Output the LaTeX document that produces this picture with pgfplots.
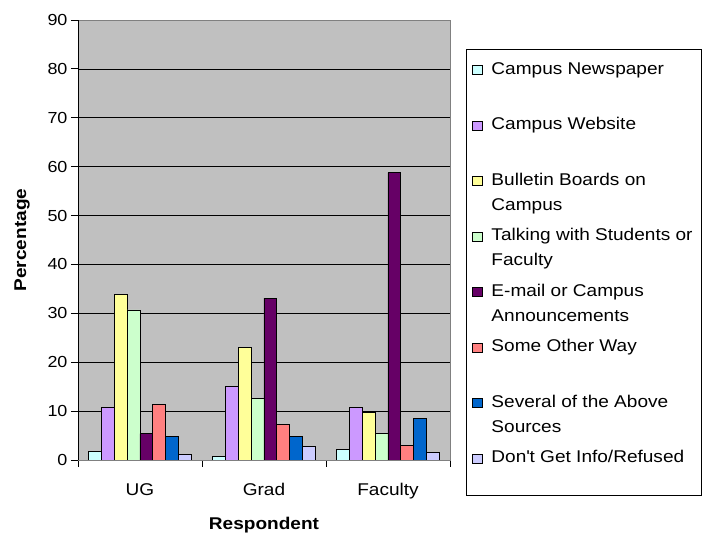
\documentclass[border=0pt]{standalone}
\usepackage{pgfplots}
\pgfplotsset{compat=1.18}
\usepackage{fontspec}
\setmainfont{Liberation Sans}[FakeStretch=1.12]
\definecolor{cNews}{HTML}{CCFFFF}
\definecolor{cWeb}{HTML}{CC99FF}
\definecolor{cBull}{HTML}{FFFF99}
\definecolor{cTalk}{HTML}{CCFFCC}
\definecolor{cMail}{HTML}{660066}
\definecolor{cOther}{HTML}{FF8080}
\definecolor{cSev}{HTML}{0066CC}
\definecolor{cNone}{HTML}{CCCCFF}
\definecolor{plotbg}{HTML}{C0C0C0}
\newcommand\LE[1]{\parbox[t]{204pt}{\raggedright #1}}
\pgfplotsset{
  midimg/.style={legend image code/.code={\draw[##1, draw=black, line width=0.6pt] (0pt,0pt) rectangle (9.5pt,9pt); \path[draw=none, fill=none] (0pt,-43.2pt) -- (0pt,0pt);}},
  lastimg/.style={legend image code/.code={\draw[##1, draw=black, line width=0.6pt] (0pt,0pt) rectangle (9.5pt,9pt); \path[draw=none, fill=none] (0pt,-19pt) -- (0pt,0pt);}},
}
\begin{document}
\begin{tikzpicture}
\begin{axis}[
  scale only axis,
  width=372pt, height=440pt,
  xmin=-0.5, xmax=2.5,
  ymin=0, ymax=90,
  ytick={0,10,...,90},
  xtick={-0.5,0.5,1.5,2.5},
  xticklabels={,,,},
  extra x ticks={0,1,2},
  extra x tick labels={UG,Grad,Faculty},
  extra x tick style={tick style={draw=none}},
  tick align=outside,
  tick pos=left,
  major tick length=7pt,
  tick style={black, line width=0.8pt},
  ymajorgrids,
  grid style={black, line width=0.7pt},
  axis line style={draw=gray, line width=0.8pt},
  axis background/.style={fill=plotbg},
  /pgf/number format/assume math mode=true,
  yticklabel style={font=\fontsize{16}{16}\selectfont, xshift=0pt},
  xticklabel style={font=\fontsize{17}{17}\selectfont, anchor=base, yshift=-29pt},
  every axis y label/.style={at={(axis description cs:-0.15,0.5)}, rotate=90, anchor=center},
  every axis x label/.style={at={(axis description cs:0.5,-0.147)}, anchor=center},
  ylabel={\fontsize{17}{17}\selectfont\bfseries Percentage},
  xlabel={\fontsize{17}{17}\selectfont\bfseries Respondent},
  ybar=0pt,
  bar width=0.104,
  midimg,
  legend style={at={(axis description cs:1.043,0.934)}, anchor=north west,
    draw=black, line width=0.8pt, fill=white,
    inner xsep=6pt, inner ysep=13pt, column sep=9pt, row sep=0pt,
    nodes={inner sep=0pt},
    cells={anchor=base west, inner sep=0pt},
    font=\fontsize{17}{25}\selectfont},
]
\addplot[fill=cNews, draw=black, line width=0.8pt, bar shift=-0.364] coordinates {(0,1.7) (1,0.8) (2,2.1)};
\addlegendentry{\LE{Campus Newspaper}}
\addplot[fill=cWeb, draw=black, line width=0.8pt, bar shift=-0.260] coordinates {(0,10.7) (1,15.1) (2,10.7)};
\addlegendentry{\LE{Campus Website}}
\addplot[fill=cBull, draw=black, line width=0.8pt, bar shift=-0.156] coordinates {(0,33.8) (1,23.0) (2,9.8)};
\addlegendentry{\LE{Bulletin Boards on Campus}}
\addplot[fill=cTalk, draw=black, line width=0.8pt, bar shift=-0.052] coordinates {(0,30.7) (1,12.6) (2,5.4)};
\addlegendentry{\LE{Talking with Students or Faculty}}
\addplot[fill=cMail, draw=black, line width=0.8pt, bar shift=0.052] coordinates {(0,5.4) (1,33.1) (2,58.8)};
\addlegendentry{\LE{E-mail or Campus Announcements}}
\addplot[fill=cOther, draw=black, line width=0.8pt, bar shift=0.156] coordinates {(0,11.3) (1,7.3) (2,2.9)};
\addlegendentry{\LE{Some Other Way}}
\addplot[fill=cSev, draw=black, line width=0.8pt, bar shift=0.260] coordinates {(0,4.9) (1,4.8) (2,8.5)};
\addlegendentry{\LE{Several of the Above Sources}}
\addplot[fill=cNone, draw=black, line width=0.8pt, bar shift=0.364, lastimg] coordinates {(0,1.1) (1,2.7) (2,1.6)};
\addlegendentry{\LE{Don\textquotesingle t Get Info/Refused}}
\draw[black, line width=0.8pt] (rel axis cs:0,1) -- (rel axis cs:0,0) -- (rel axis cs:1,0);
\end{axis}
\pgfresetboundingbox
\path (current axis.south west) ++(-78pt,-75pt) rectangle ++(702pt,535pt);
\end{tikzpicture}
\end{document}
